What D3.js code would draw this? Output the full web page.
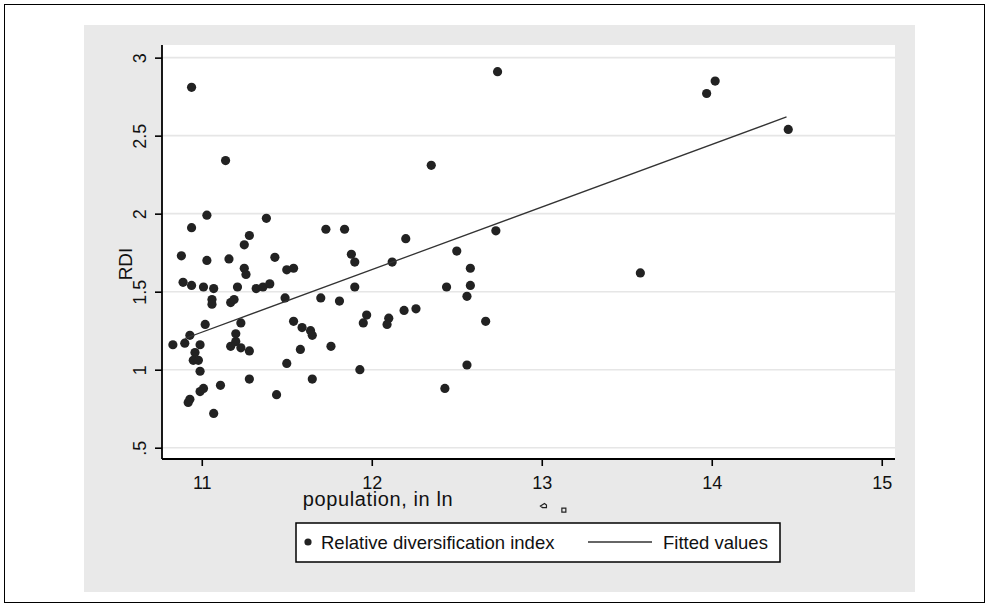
<!DOCTYPE html>
<html>
<head>
<meta charset="utf-8">
<script src="https://cdn.jsdelivr.net/npm/d3@7"></script>
<style>
    body { margin: 0; background: #fff; }
    text { font-family: "Liberation Sans", Arial, sans-serif; fill: #111; }
</style>
</head>
<body>
<svg id="svg" width="989" height="607"></svg>
<script>
// Data: log population (x) and relative diversification index (y)
const popLn = [
    10.94, 11.14, 11.03, 10.94, 11.38, 11.28, 11.25, 10.88, 11.03, 11.16,
    11.43, 11.73, 11.84, 11.88, 11.90, 11.25, 11.26, 11.50, 11.54, 12.12,
    10.89, 10.94, 11.01, 11.07, 11.21, 11.32, 11.36, 11.40, 11.06, 11.06,
    11.17, 11.19, 11.49, 11.70, 11.81, 11.90, 11.97, 11.95, 12.10, 12.09,
    11.02, 11.23, 10.93, 10.83, 10.90, 10.99, 10.96, 10.95, 10.98, 11.20,
    11.20, 11.17, 11.23, 11.28, 11.54, 11.59, 11.64, 11.65, 11.58, 11.76,
    11.50, 11.93, 10.99, 11.28, 11.65, 11.11, 11.01, 10.99, 11.44, 10.93,
    10.92, 11.07, 12.35, 12.20, 12.73, 12.50, 12.58, 12.58, 12.56, 12.44,
    12.19, 12.26, 12.67, 12.56, 12.43, 12.74, 14.02, 13.97, 14.45, 13.58
];
const rdi = [
    2.81, 2.34, 1.99, 1.91, 1.97, 1.86, 1.80, 1.73, 1.70, 1.71,
    1.72, 1.90, 1.90, 1.74, 1.69, 1.65, 1.61, 1.64, 1.65, 1.69,
    1.56, 1.54, 1.53, 1.52, 1.53, 1.52, 1.53, 1.55, 1.45, 1.42,
    1.43, 1.45, 1.46, 1.46, 1.44, 1.53, 1.35, 1.30, 1.33, 1.29,
    1.29, 1.30, 1.22, 1.16, 1.17, 1.16, 1.11, 1.06, 1.06, 1.23,
    1.18, 1.15, 1.14, 1.12, 1.31, 1.27, 1.25, 1.22, 1.13, 1.15,
    1.04, 1.00, 0.99, 0.94, 0.94, 0.90, 0.88, 0.86, 0.84, 0.81,
    0.79, 0.72, 2.31, 1.84, 1.89, 1.76, 1.65, 1.54, 1.47, 1.53,
    1.38, 1.39, 1.31, 1.03, 0.88, 2.91, 2.85, 2.77, 2.54, 1.62
];

// Fitted values line (end points)
const fitX = [10.90, 14.44];
const fitY = [1.20, 2.62];

// Axis ticks
const xTicks = [11, 12, 13, 14, 15];
const yTicks = [0.5, 1, 1.5, 2, 2.5, 3];
const yTickLabels = [".5", "1", "1.5", "2", "2.5", "3"];

// Two stray little marks under the x axis
const strayX = [13.01, 13.13];
const strayY = [0.126, 0.100];

const legendItems = ["Relative diversification index", "Fitted values"];

const svg = d3.select("#svg");

// Outer frame and grey graph region
svg.append("rect")
    .attr("x", 4.5).attr("y", 4.5)
    .attr("width", 980).attr("height", 598)
    .attr("fill", "#fff").attr("stroke", "#000").attr("stroke-width", 1);

svg.append("rect")
    .attr("x", 84).attr("y", 25)
    .attr("width", 831).attr("height", 567)
    .attr("fill", "#e9e9e9");

// Plot region
const plot = { left: 162, top: 45, right: 895, bottom: 459 };

svg.append("rect")
    .attr("x", plot.left).attr("y", plot.top)
    .attr("width", plot.right - plot.left).attr("height", plot.bottom - plot.top)
    .attr("fill", "#fff");

const x = d3.scaleLinear()
    .domain([10.766, 15.078])
    .range([plot.left, plot.right]);

const y = d3.scaleLinear()
    .domain([0.4276, 3.081])
    .range([plot.bottom, plot.top]);

// Grid lines
svg.append("g")
    .selectAll("line")
    .data(yTicks)
    .join("line")
    .attr("x1", plot.left).attr("x2", plot.right)
    .attr("y1", d => y(d)).attr("y2", d => y(d))
    .attr("stroke", "#e6e6e6")
    .attr("stroke-width", 1.6);

// Y axis
const yAxis = svg.append("g")
    .attr("transform", `translate(${plot.left},0)`)
    .call(d3.axisLeft(y).tickValues(yTicks).tickSize(7).tickFormat((d, i) => yTickLabels[i]));

yAxis.select(".domain").attr("d", `M0,${plot.top}V${plot.bottom}`).attr("stroke-width", 1.8);
yAxis.selectAll(".tick line").attr("stroke-width", 1.6);
yAxis.selectAll(".tick text")
    .attr("x", null).attr("dy", null)
    .attr("transform", "translate(-16,0) rotate(-90)")
    .attr("text-anchor", "middle")
    .style("font-size", "18px")
    .style("font-family", "'Liberation Sans', Arial, sans-serif")
    .attr("fill", "#111");

// X axis
const xAxis = svg.append("g")
    .attr("transform", `translate(0,${plot.bottom})`)
    .call(d3.axisBottom(x).tickValues(xTicks).tickSize(7).tickFormat(d3.format("d")));

xAxis.select(".domain").attr("d", `M${plot.left},0H${plot.right}`).attr("stroke-width", 1.8);
xAxis.selectAll(".tick line").attr("stroke-width", 1.6);
xAxis.selectAll(".tick text")
    .attr("y", 30).attr("dy", null)
    .style("font-size", "18px")
    .style("font-family", "'Liberation Sans', Arial, sans-serif")
    .attr("fill", "#111");

// Axis titles
svg.append("text")
    .attr("transform", "translate(132,264) rotate(-90)")
    .attr("text-anchor", "middle")
    .style("font-size", "19px")
    .text("RDI");

svg.append("text")
    .attr("x", 378).attr("y", 506)
    .attr("text-anchor", "middle")
    .style("font-size", "20px")
    .style("letter-spacing", "0.6px")
    .text("population, in ln");

// Stray marks
svg.append("g")
    .selectAll("path")
    .data(strayX)
    .join("path")
    .attr("transform", (d, i) => `translate(${x(d)},${y(strayY[i])})`)
    .attr("d", (d, i) => i === 0 ? "M-3,0L1,-2.5L3,-1L3,1.5L-1,1.5Z" : "M-2,-2H2V2H-2Z")
    .attr("fill", "none")
    .attr("stroke", "#222")
    .attr("stroke-width", 1.2);

// Scatter points
svg.append("g")
    .selectAll("circle")
    .data(popLn)
    .join("circle")
    .attr("cx", d => x(d))
    .attr("cy", (d, i) => y(rdi[i]))
    .attr("r", 4.6)
    .attr("fill", "#222");

// Fitted line
svg.append("path")
    .datum(fitX)
    .attr("d", d3.line().x(d => x(d)).y((d, i) => y(fitY[i])))
    .attr("fill", "none")
    .attr("stroke", "#333")
    .attr("stroke-width", 1.3);

// Legend
const legend = svg.append("g");

legend.append("rect")
    .attr("x", 296).attr("y", 523)
    .attr("width", 484).attr("height", 39)
    .attr("fill", "#fff")
    .attr("stroke", "#000")
    .attr("stroke-width", 1.5);

legend.append("circle")
    .attr("cx", 308).attr("cy", 542)
    .attr("r", 3.6)
    .attr("fill", "#222");

legend.append("text")
    .attr("x", 321).attr("y", 549)
    .style("font-size", "18.5px")
    .text(legendItems[0]);

legend.append("line")
    .attr("x1", 588).attr("x2", 652)
    .attr("y1", 542).attr("y2", 542)
    .attr("stroke", "#333")
    .attr("stroke-width", 1.3);

legend.append("text")
    .attr("x", 663).attr("y", 549)
    .style("font-size", "18.5px")
    .text(legendItems[1]);
</script>
</body>
</html>
